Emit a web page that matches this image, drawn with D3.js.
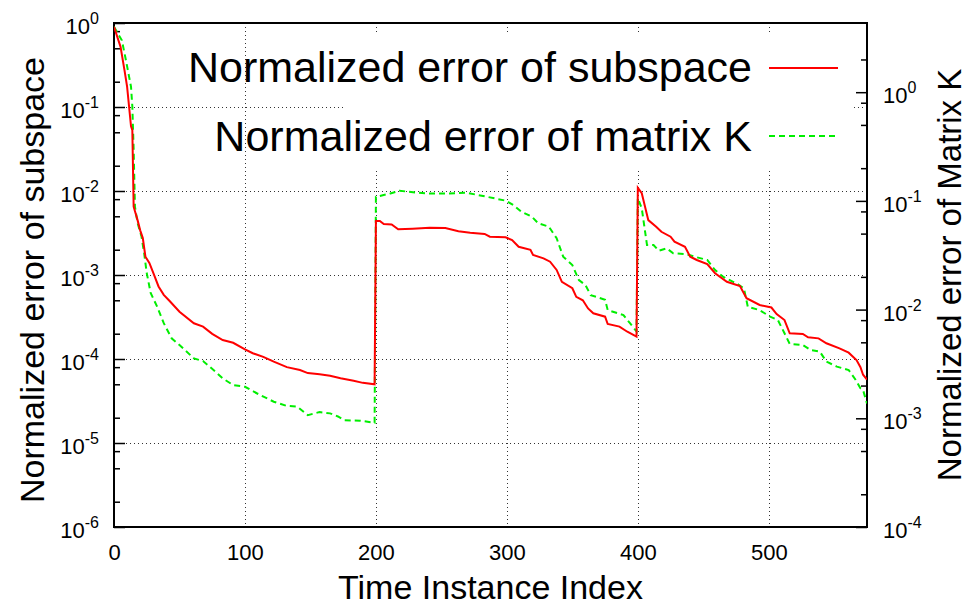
<!DOCTYPE html>
<html>
<head>
<meta charset="utf-8">
<script src="https://cdn.jsdelivr.net/npm/d3@7"></script>
<style>
  body { margin: 0; background: #fff; }
  text { font-family: "Liberation Sans", Arial, sans-serif; fill: #000; }
</style>
</head>
<body>
<div id="chart"></div>
<script>
// data: time index and normalized error
var subspaceIndex = [0, 5, 8, 10, 13, 14, 15, 18, 20, 22, 24, 27, 30, 34, 38, 43, 50, 61, 68, 75, 83, 91, 100, 106, 114, 122, 132, 142, 148, 157, 165, 173, 183, 190, 199,
  200, 203, 206, 212, 217, 228, 241, 253, 263, 272, 283, 287, 299, 304, 309, 318, 320, 328, 333, 338, 342, 350, 353, 358, 362, 366, 375, 377, 386, 392, 399,
  400, 403, 408, 414, 418, 425, 428, 436, 440, 445, 453, 459, 468, 478, 483, 493, 502, 506, 512, 516, 526, 530, 538, 544, 554, 561, 567, 570, 572, 575];
var subspaceError = [0.90, 0.52, 0.275, 0.175, 0.059, 0.053, 0.0065, 0.0045, 0.0034, 0.00275, 0.00165, 0.00139, 0.00106, 7.3e-4, 5.8e-4, 4.8e-4, 3.66e-4, 2.66e-4, 2.43e-4, 1.99e-4, 1.68e-4, 1.56e-4, 1.30e-4, 1.17e-4, 1.06e-4, 9.3e-5, 8.0e-5, 7.4e-5, 6.8e-5, 6.6e-5, 6.3e-5, 5.9e-5, 5.5e-5, 5.2e-5, 5.0e-5,
  4.4e-3, 4.4e-3, 4.05e-3, 4.0e-3, 3.5e-3, 3.56e-3, 3.66e-3, 3.63e-3, 3.31e-3, 3.19e-3, 3.08e-3, 2.86e-3, 2.81e-3, 2.61e-3, 2.17e-3, 1.99e-3, 1.73e-3, 1.58e-3, 1.44e-3, 1.15e-3, 8.3e-4, 6.95e-4, 5.5e-4, 5.0e-4, 4.0e-4, 3.5e-4, 3.19e-4, 2.61e-4, 2.43e-4, 2.11e-4, 1.85e-4,
  1.09e-2, 9.4e-3, 4.5e-3, 3.76e-3, 3.27e-3, 2.86e-3, 2.49e-3, 2.17e-3, 1.65e-3, 1.51e-3, 1.35e-3, 1.05e-3, 8.3e-4, 7.4e-4, 5.3e-4, 4.4e-4, 4.1e-4, 3.43e-4, 2.91e-4, 2.02e-4, 1.99e-4, 1.81e-4, 1.76e-4, 1.54e-4, 1.34e-4, 1.19e-4, 9.7e-5, 8.0e-5, 6.5e-5, 5.7e-5];

var matrixIndex = [0, 6, 9, 13, 14, 15, 16, 18, 21, 23, 25, 28, 33, 38, 44, 50, 61, 68, 76, 83, 91, 100, 109, 122, 132, 140, 148, 157, 165, 171, 176, 188, 199,
  200, 211, 218, 231, 241, 254, 269, 285, 299, 305, 311, 319, 324, 332, 338, 343, 350, 355, 360, 364, 375, 377, 389, 394, 399,
  400, 403, 407, 412, 416, 422, 427, 437, 445, 453, 459, 465, 476, 481, 484, 493, 501, 507, 512, 516, 526, 532, 539, 544, 552, 561, 566, 570, 572, 575];
var matrixError = [4.0, 3.0, 2.0, 1.12, 0.74, 0.30, 0.0885, 0.0627, 0.047, 0.0332, 0.0217, 0.0142, 0.0106, 7.5e-3, 5.45e-3, 4.72e-3, 3.56e-3, 3.36e-3, 2.78e-3, 2.33e-3, 2.02e-3, 1.95e-3, 1.70e-3, 1.42e-3, 1.30e-3, 1.28e-3, 1.07e-3, 1.14e-3, 1.11e-3, 1.04e-3, 9.6e-4, 9.5e-4, 9.1e-4,
  0.109, 0.117, 0.124, 0.119, 0.117, 0.117, 0.119, 0.109, 0.1005, 0.0916, 0.0796, 0.0716, 0.0622, 0.058, 0.0453, 0.0307, 0.0257, 0.0187, 0.0168, 0.0136, 0.0123, 9.9e-3, 8.9e-3, 7.5e-3, 6.3e-3,
  0.106, 0.0855, 0.0393, 0.0393, 0.0348, 0.0366, 0.033, 0.0324, 0.0303, 0.0286, 0.0231, 0.0201, 0.0172, 0.0157, 0.0106, 9.9e-3, 8.6e-3, 8.0e-3, 6.05e-3, 4.83e-3, 4.72e-3, 4.25e-3, 4.1e-3, 3.32e-3, 2.99e-3, 2.78e-3, 2.29e-3, 1.89e-3, 1.82e-3, 1.37e-3];

var xTicks = [0, 100, 200, 300, 400, 500];
var leftExponents = [-6, -5, -4, -3, -2, -1, 0];
var rightExponents = [-4, -3, -2, -1, 0];
var seriesNames = ["Normalized error of subspace", "Normalized error of matrix K"];
var seriesColors = ["#ff0000", "#00ee00"];

// plot box
var W = 969, H = 606;
var plotLeft = 114, plotRight = 867, plotTop = 23, plotBottom = 527;

var svg = d3.select("#chart")
  .append("svg")
  .attr("width", W)
  .attr("height", H);

svg.append("rect").attr("width", W).attr("height", H).attr("fill", "#fff");

// scales
var x = d3.scaleLinear().domain([0, 575]).range([plotLeft, plotRight]);
var yLeft = d3.scaleLog().domain([1e-6, 1]).range([plotBottom, plotTop]);
var yRight = d3.scaleLog().domain([1e-4, 4.33]).range([plotBottom, plotTop]);

// minor ticks at 2, 5 and 8 of each decade
function minorTicks(scale, exps) {
  var out = [];
  var d = scale.domain();
  exps.concat([exps[exps.length - 1] + 1]).forEach(function(e) {
    [2, 5, 8].forEach(function(m) {
      var v = m * Math.pow(10, e - 1);
      if (v > d[0] && v < d[1]) out.push(v);
    });
  });
  return out;
}

// grid
var grid = svg.append("g")
  .attr("stroke", "#333")
  .attr("stroke-width", 1)
  .attr("stroke-dasharray", "1,3");
grid.selectAll("line.h")
  .data(leftExponents.slice(1, -1))
  .enter().append("line")
  .attr("x1", plotLeft).attr("x2", plotRight)
  .attr("y1", function(e) { return Math.round(yLeft(Math.pow(10, e))) + 0.5; })
  .attr("y2", function(e) { return Math.round(yLeft(Math.pow(10, e))) + 0.5; });
grid.selectAll("line.v")
  .data(xTicks.slice(1))
  .enter().append("line")
  .attr("y1", plotTop).attr("y2", plotBottom)
  .attr("x1", function(d) { return Math.round(x(d)) + 0.5; })
  .attr("x2", function(d) { return Math.round(x(d)) + 0.5; });

// legend background hides the grid behind it
svg.append("rect")
  .attr("x", 346).attr("y", 34)
  .attr("width", 505).attr("height", 137)
  .attr("fill", "#fff");

// left axis (ticks point inward)
svg.append("g")
  .attr("transform", "translate(" + plotLeft + ",0)")
  .call(d3.axisRight(yLeft)
    .tickValues(leftExponents.map(function(e) { return Math.pow(10, e); }))
    .tickSize(11).tickFormat(""))
  .call(function(g) { g.select(".domain").remove(); });
svg.append("g")
  .attr("transform", "translate(" + plotLeft + ",0)")
  .call(d3.axisRight(yLeft).tickValues(minorTicks(yLeft, leftExponents)).tickSize(6).tickFormat(""))
  .call(function(g) { g.select(".domain").remove(); });

// right axis
svg.append("g")
  .attr("transform", "translate(" + plotRight + ",0)")
  .call(d3.axisLeft(yRight)
    .tickValues(rightExponents.map(function(e) { return Math.pow(10, e); }))
    .tickSize(11).tickFormat(""))
  .call(function(g) { g.select(".domain").remove(); });
svg.append("g")
  .attr("transform", "translate(" + plotRight + ",0)")
  .call(d3.axisLeft(yRight).tickValues(minorTicks(yRight, rightExponents)).tickSize(6).tickFormat(""))
  .call(function(g) { g.select(".domain").remove(); });

svg.selectAll(".tick line").attr("stroke", "#000").attr("stroke-width", 1.5);

// bottom axis labels
svg.append("g")
  .attr("transform", "translate(0," + plotBottom + ")")
  .call(d3.axisBottom(x).tickValues(xTicks).tickSize(0).tickPadding(17))
  .call(function(g) {
    g.select(".domain").remove();
    g.selectAll("text").style("font-size", "22px").attr("font-family", null);
  });

// power-of-ten labels
function powerLabel(g, exps, scale, xPos, anchor) {
  exps.forEach(function(e) {
    var t = g.append("text")
      .attr("x", xPos)
      .attr("y", scale(Math.pow(10, e)) + 11)
      .attr("text-anchor", anchor)
      .style("font-size", "22px");
    t.append("tspan").text("10");
    t.append("tspan").attr("dy", -10).style("font-size", "16px").text(e);
  });
}
powerLabel(svg.append("g"), leftExponents, yLeft, 99, "end");
powerLabel(svg.append("g"), rightExponents, yRight, 883, "start");

// frame
svg.append("rect")
  .attr("x", plotLeft).attr("y", plotTop)
  .attr("width", plotRight - plotLeft).attr("height", plotBottom - plotTop)
  .attr("fill", "none")
  .attr("stroke", "#000")
  .attr("stroke-width", 2);

// curves
svg.append("clipPath").attr("id", "plotclip")
  .append("rect").attr("x", plotLeft).attr("y", plotTop)
  .attr("width", plotRight - plotLeft).attr("height", plotBottom - plotTop);

var lineLeft = d3.line()
  .x(function(d, i) { return x(subspaceIndex[i]); })
  .y(function(d) { return yLeft(d); });
var lineRight = d3.line()
  .x(function(d, i) { return x(matrixIndex[i]); })
  .y(function(d) { return yRight(d); });

svg.append("path")
  .attr("clip-path", "url(#plotclip)")
  .attr("d", lineRight(matrixError))
  .attr("fill", "none")
  .attr("stroke", seriesColors[1])
  .attr("stroke-width", 2)
  .attr("stroke-dasharray", "6,4");

svg.append("path")
  .attr("clip-path", "url(#plotclip)")
  .attr("d", lineLeft(subspaceError))
  .attr("fill", "none")
  .attr("stroke", seriesColors[0])
  .attr("stroke-width", 2);

// legend
for (var i = 0; i < 2; i++) {
  svg.append("text")
    .attr("x", 752)
    .attr("y", 82 + i * 69)
    .attr("text-anchor", "end")
    .style("font-size", "43px")
    .text(seriesNames[i]);
  svg.append("line")
    .attr("x1", 769).attr("x2", 838)
    .attr("y1", 68 + i * 68).attr("y2", 68 + i * 68)
    .attr("stroke", seriesColors[i])
    .attr("stroke-width", 2)
    .attr("stroke-dasharray", i == 1 ? "6,4" : null);
}

// axis titles
svg.append("text")
  .attr("x", (plotLeft + plotRight) / 2)
  .attr("y", 599)
  .attr("text-anchor", "middle")
  .style("font-size", "34px")
  .text("Time Instance Index");

svg.append("text")
  .attr("transform", "translate(44," + ((plotTop + plotBottom) / 2 + 5) + ") rotate(-90)")
  .attr("text-anchor", "middle")
  .style("font-size", "34px")
  .text("Normalized error of subspace");

svg.append("text")
  .attr("transform", "translate(961," + ((plotTop + plotBottom) / 2) + ") rotate(-90)")
  .attr("text-anchor", "middle")
  .style("font-size", "33px")
  .text("Normalized error of Matrix K");
</script>
</body>
</html>
